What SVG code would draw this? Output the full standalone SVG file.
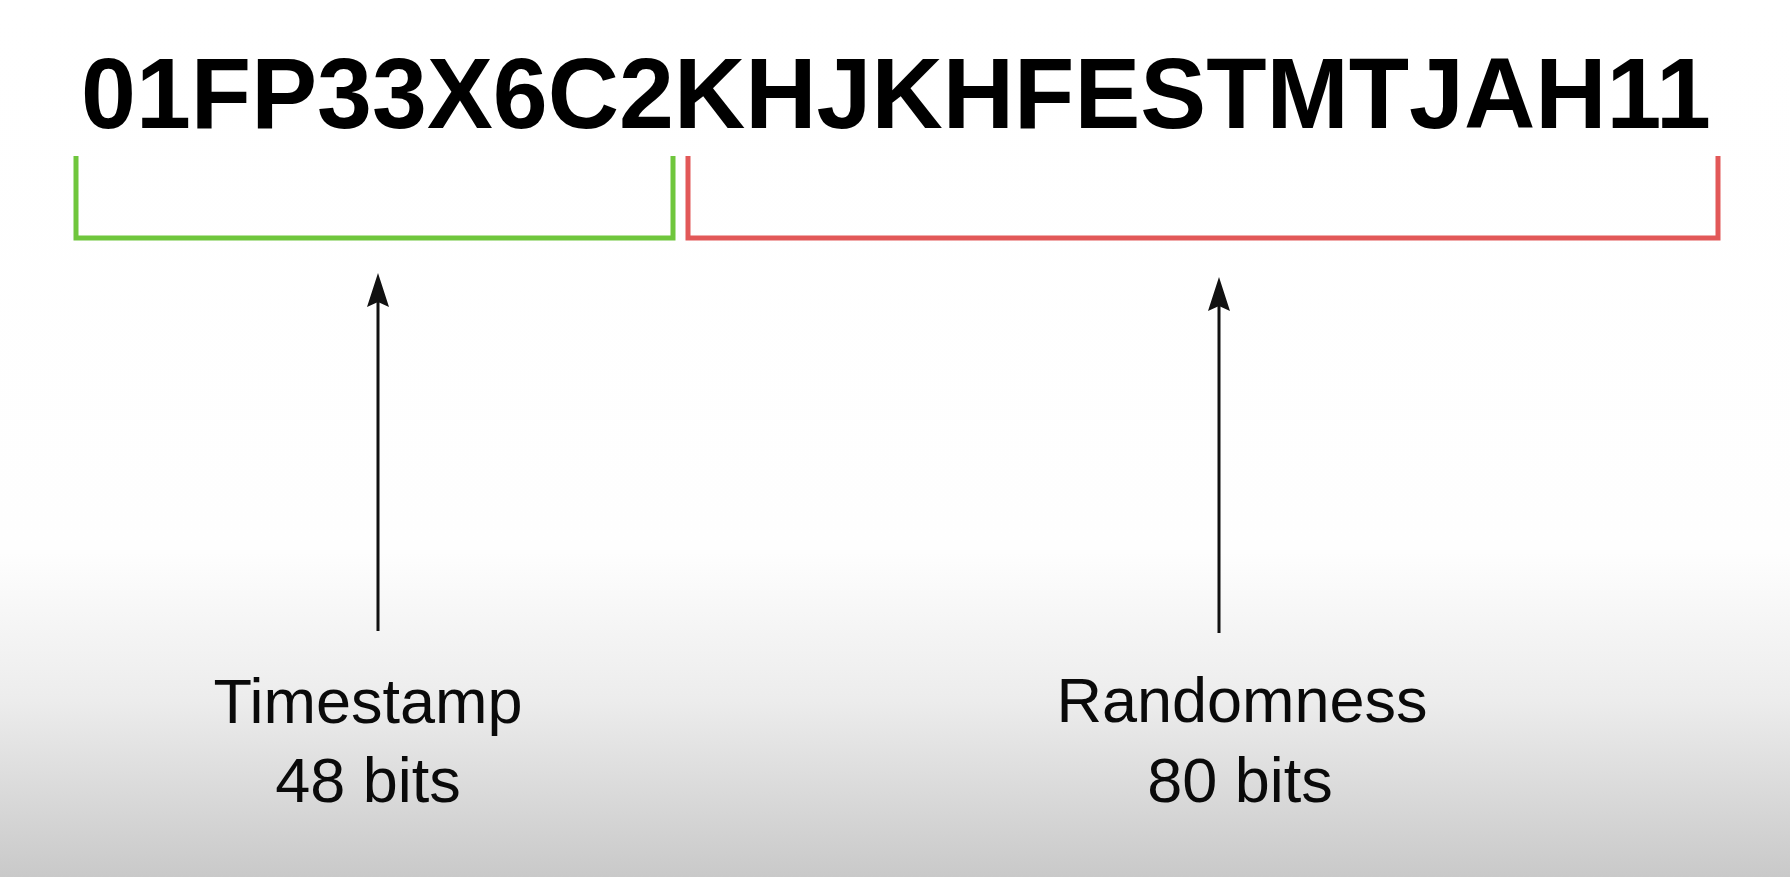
<svg xmlns="http://www.w3.org/2000/svg" width="1790" height="877" viewBox="0 0 1790 877">
  <defs>
    <linearGradient id="bg" x1="0" y1="0" x2="0" y2="877" gradientUnits="userSpaceOnUse">
      <stop offset="0" stop-color="#ffffff"/>
      <stop offset="0.63" stop-color="#fefefe"/>
      <stop offset="0.8" stop-color="#ececec"/>
      <stop offset="1" stop-color="#c9c9c9"/>
    </linearGradient>
    <style>
      .title { font-family: "Liberation Sans", Arial, sans-serif; font-weight: bold; font-size: 101px; fill: #000; }
      .label { font-family: "Liberation Sans", Arial, sans-serif; font-size: 63px; fill: #0a0a0a; text-anchor: middle; }
      .bracket { fill: none; stroke-width: 5; stroke-linejoin: miter; }
      .green { stroke: #6fc63c; }
      .red { stroke: #e25858; }
      .conn { stroke: #111; stroke-width: 3; fill: none; }
      .head { fill: #111; }
    </style>
  </defs>
  <rect x="0" y="0" width="1790" height="877" fill="url(#bg)"/>

  <g id="ulid">
    <text class="title" x="81" y="128" textLength="1630" lengthAdjust="spacingAndGlyphs">01FP33X6C2KHJKHFESTMTJAH11</text>
  </g>

  <g id="timestamp-bracket">
    <path class="bracket green" d="M76 156 V238 H673 V156"/>
  </g>
  <g id="randomness-bracket">
    <path class="bracket red" d="M688 156 V238 H1718 V156"/>
  </g>

  <g id="timestamp-label">
    <text class="label" x="368" y="723">Timestamp</text>
    <text class="label" x="368" y="802">48 bits</text>
  </g>
  <g id="randomness-label">
    <text class="label" x="1242" y="722">Randomness</text>
    <text class="label" x="1240" y="802">80 bits</text>
  </g>

  <g id="connectors">
    <path class="conn" d="M378 631 V300"/>
    <path class="head" d="M378 273 L389 307 L378 302 L367 307 Z"/>
    <path class="conn" d="M1219 633 V304"/>
    <path class="head" d="M1219 277 L1230 311 L1219 306 L1208 311 Z"/>
  </g>
</svg>
